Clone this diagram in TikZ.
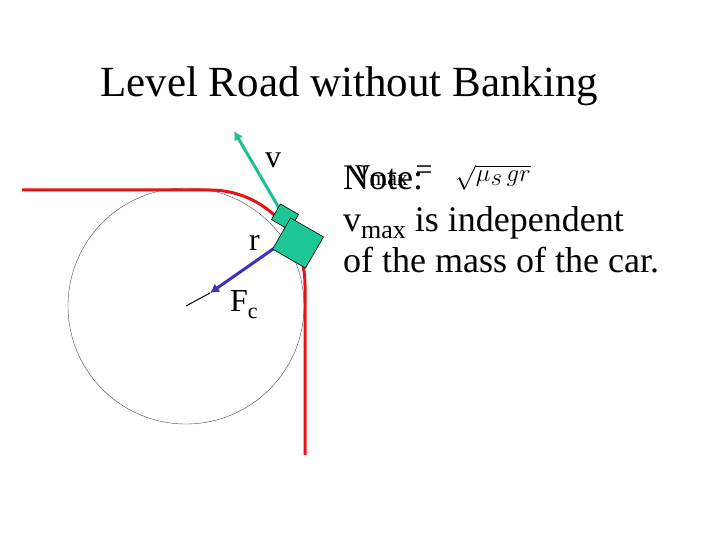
\documentclass[tikz,border=0pt]{standalone}
\usepackage{fontspec}
\setmainfont{Liberation Serif}
\usepackage{amsmath}
\usetikzlibrary{arrows.meta}
\begin{document}
\begin{tikzpicture}[x=1pt,y=-1pt,
  lbl/.style={inner sep=0pt,anchor=base west},
  carbox/.style={draw=black,line width=0.6pt}]
\definecolor{roadred}{RGB}{230,20,20}
\definecolor{vgreen}{RGB}{30,190,150}
\definecolor{fblue}{RGB}{60,50,190}
\definecolor{carg}{RGB}{30,200,150}
\useasboundingbox (0,0) rectangle (720,540);
\node[lbl,font=\fontsize{43}{48}\selectfont] (title) at (100,97) {Level Road without Banking};
% circle
\coordinate (c) at (186,306);
\draw[line width=0.4pt,black!70] (c) circle (118);
% road
\coordinate (r0) at (22,190);
\coordinate (r1) at (210,190);
\coordinate (r3) at (305,455);
\draw[roadred,line width=3pt] (r0) -- (r1) arc[start angle=-90,end angle=0,radius=95] -- (r3);
% arrows
\coordinate (vs) at (279,208);
\coordinate (ve) at (234,131);
\draw[vgreen,line width=3pt,-{Latex[length=9pt,width=10pt]}] (vs) -- (ve);
\coordinate (fs) at (276,247);
\coordinate (fe) at (210,293);
\draw[black,line width=1pt] (fe) -- (c);
\draw[fblue,line width=3pt,-{Latex[length=9pt,width=10pt]}] (fs) -- (fe);
% car
\node[carbox,fill=carg,minimum width=21pt,minimum height=18pt,rotate=-30,inner sep=0pt] (car1) at (285,217) {};
\node[carbox,fill=carg,minimum width=38pt,minimum height=36pt,rotate=-30,inner sep=0pt] (car2) at (298,243) {};
% labels
\node[lbl,font=\fontsize{32}{36}\selectfont] (v) at (265,168) {v};
\node[lbl,font=\fontsize{32}{36}\selectfont] (r) at (249,251) {r};
\node[lbl,font=\fontsize{32}{36}\selectfont] (F) at (230,311) {F\raisebox{-7pt}{\fontsize{22}{24}\selectfont c}};
\node[lbl,font=\fontsize{30}{34}\selectfont] (vmax) at (355,180) {v\raisebox{-6pt}{\fontsize{22}{24}\selectfont max} =};
\node[lbl,font=\fontsize{34}{38}\selectfont] (sq) at (455,182) {$\sqrt{\mu_s\, g r}$};
\node[lbl,font=\fontsize{36}{41}\selectfont,align=left] (note) at (343,272)
  {Note:\\ v\raisebox{-7pt}{\fontsize{26}{28}\selectfont max} is independent\\ of the mass of the car.};
\end{tikzpicture}
\end{document}
